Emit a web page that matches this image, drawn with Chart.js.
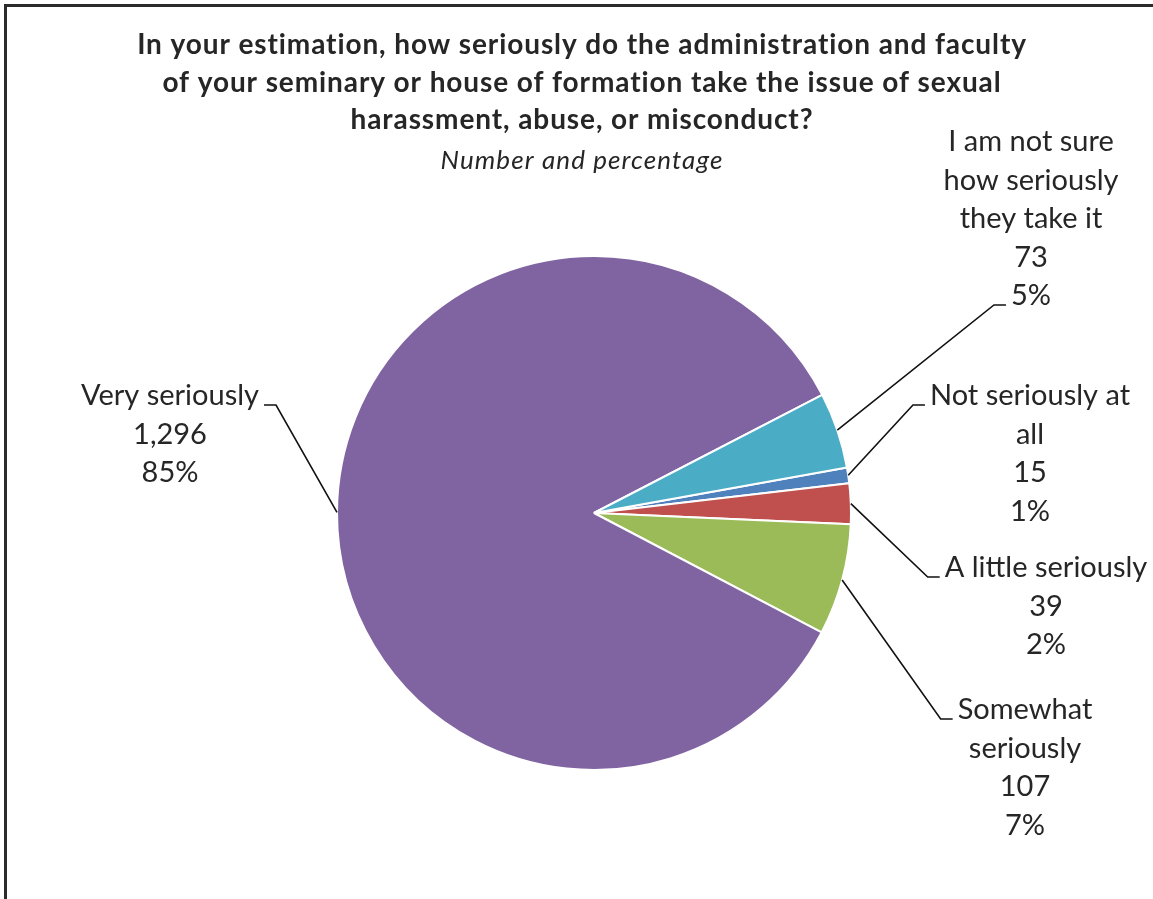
<!DOCTYPE html>
<html>
<head>
<meta charset="utf-8">
<script src="https://cdn.jsdelivr.net/npm/chart.js@4"></script>
<style>
  html, body { margin: 0; padding: 0; background: #fff; overflow: hidden; }
  #frame { position: absolute; left: 4px; top: 4px; width: 2000px; height: 2000px;
           border-left: 3px solid #2b2b2b; border-top: 3px solid #2b2b2b; }
  #myChart { position: absolute; left: 0; top: 0; }
</style>
</head>
<body>
<div id="frame"></div>
<canvas id="myChart" width="1153" height="899"></canvas>
<script>
// data, in the order the slices are drawn (clockwise)
var categories = [
  ['Not seriously at', 'all'],
  ['A little seriously'],
  ['Somewhat', 'seriously'],
  ['Very seriously'],
  ['I am not sure', 'how seriously', 'they take it']
];
var counts = [15, 39, 107, 1296, 73];
var percentLabels = ['1%', '2%', '7%', '85%', '5%'];
var sliceColors = ['#4F81BD', '#C0504D', '#9BBB59', '#8064A2', '#4BACC6'];

var titleLines = [
  'In your estimation, how seriously do the administration and faculty',
  'of your seminary or house of formation take the issue of sexual',
  'harassment, abuse, or misconduct?'
];
var subtitleText = 'Number and percentage';

// where each label block sits, relative to the pie centre
// dx = text centre, dy = first baseline, row = line that gets the leader tick
var labelLayout = [
  { dx: 436, dy: -108, row: 0, side: 'left' },
  { dx: 452, dy: 64, row: 0, side: 'left' },
  { dx: 431, dy: 206, row: 0, side: 'left' },
  { dx: -424, dy: -108, row: 0, side: 'right' },
  { dx: 437, dy: -362, row: 4, side: 'left' }
];

var FONT = 'Lato, "Open Sans", sans-serif';
var TEXT_COLOR = '#262626';

var titlePlugin = {
  id: 'titleText',
  afterDraw: function (chart) {
    var ctx = chart.ctx;
    ctx.save();
    ctx.fillStyle = TEXT_COLOR;
    ctx.textAlign = 'center';
    ctx.textBaseline = 'alphabetic';
    ctx.font = 'bold 28px ' + FONT;
    ctx.letterSpacing = '0.9px';
    var baselines = [54, 92, 129];
    titleLines.forEach(function (t, i) {
      ctx.fillText(t, 582, baselines[i]);
    });
    ctx.font = 'italic 26px ' + FONT;
    ctx.letterSpacing = '1.1px';
    ctx.fillText(subtitleText, 582, 169);
    ctx.restore();
  }
};

var labelPlugin = {
  id: 'pieLabels',
  afterDatasetsDraw: function (chart) {
    var ctx = chart.ctx;
    var meta = chart.getDatasetMeta(0);
    var lineH = 38.5;
    ctx.save();
    ctx.font = '29px ' + FONT;
    ctx.textAlign = 'center';
    ctx.textBaseline = 'alphabetic';
    meta.data.forEach(function (arc, i) {
      var p = arc.getProps(['x', 'y', 'startAngle', 'endAngle', 'outerRadius'], true);
      var mid = (p.startAngle + p.endAngle) / 2;
      var sx = p.x + Math.cos(mid) * p.outerRadius;
      var sy = p.y + Math.sin(mid) * p.outerRadius;
      var lay = labelLayout[i];
      var lines = categories[i].concat([counts[i].toLocaleString('en-US'), percentLabels[i]]);
      var tx = p.x + lay.dx;
      var by = p.y + lay.dy;

      ctx.fillStyle = TEXT_COLOR;
      lines.forEach(function (t, k) {
        ctx.fillText(t, tx, by + k * lineH);
      });

      var ty = by + lay.row * lineH;
      var w = ctx.measureText(lines[lay.row]).width;
      var tickEnd, elbow;
      if (lay.side === 'left') {
        tickEnd = tx - w / 2 - 5;
        elbow = tickEnd - 12;
      } else {
        tickEnd = tx + w / 2 + 5;
        elbow = tickEnd + 12;
      }
      ctx.strokeStyle = '#111';
      ctx.lineWidth = 1.6;
      ctx.beginPath();
      ctx.moveTo(sx, sy);
      ctx.lineTo(elbow, ty);
      ctx.lineTo(tickEnd, ty);
      ctx.stroke();
    });
    ctx.restore();
  }
};

function printChart() {
  var ctx = document.getElementById('myChart').getContext('2d');
  var chart = new Chart(ctx, {
    type: 'pie',
    data: {
      labels: categories,
      datasets: [{
        data: counts,
        backgroundColor: sliceColors,
        borderColor: '#ffffff',
        borderWidth: 2,
        hoverBorderWidth: 2
      }]
    },
    options: {
      responsive: false,
      animation: false,
      rotation: 79.8,
      layout: { padding: { left: 336, right: 301, top: 255, bottom: 128 } },
      plugins: {
        legend: { display: false },
        tooltip: { enabled: false },
        title: { display: false }
      }
    },
    plugins: [titlePlugin, labelPlugin]
  });
}
printChart();
</script>
</body>
</html>
